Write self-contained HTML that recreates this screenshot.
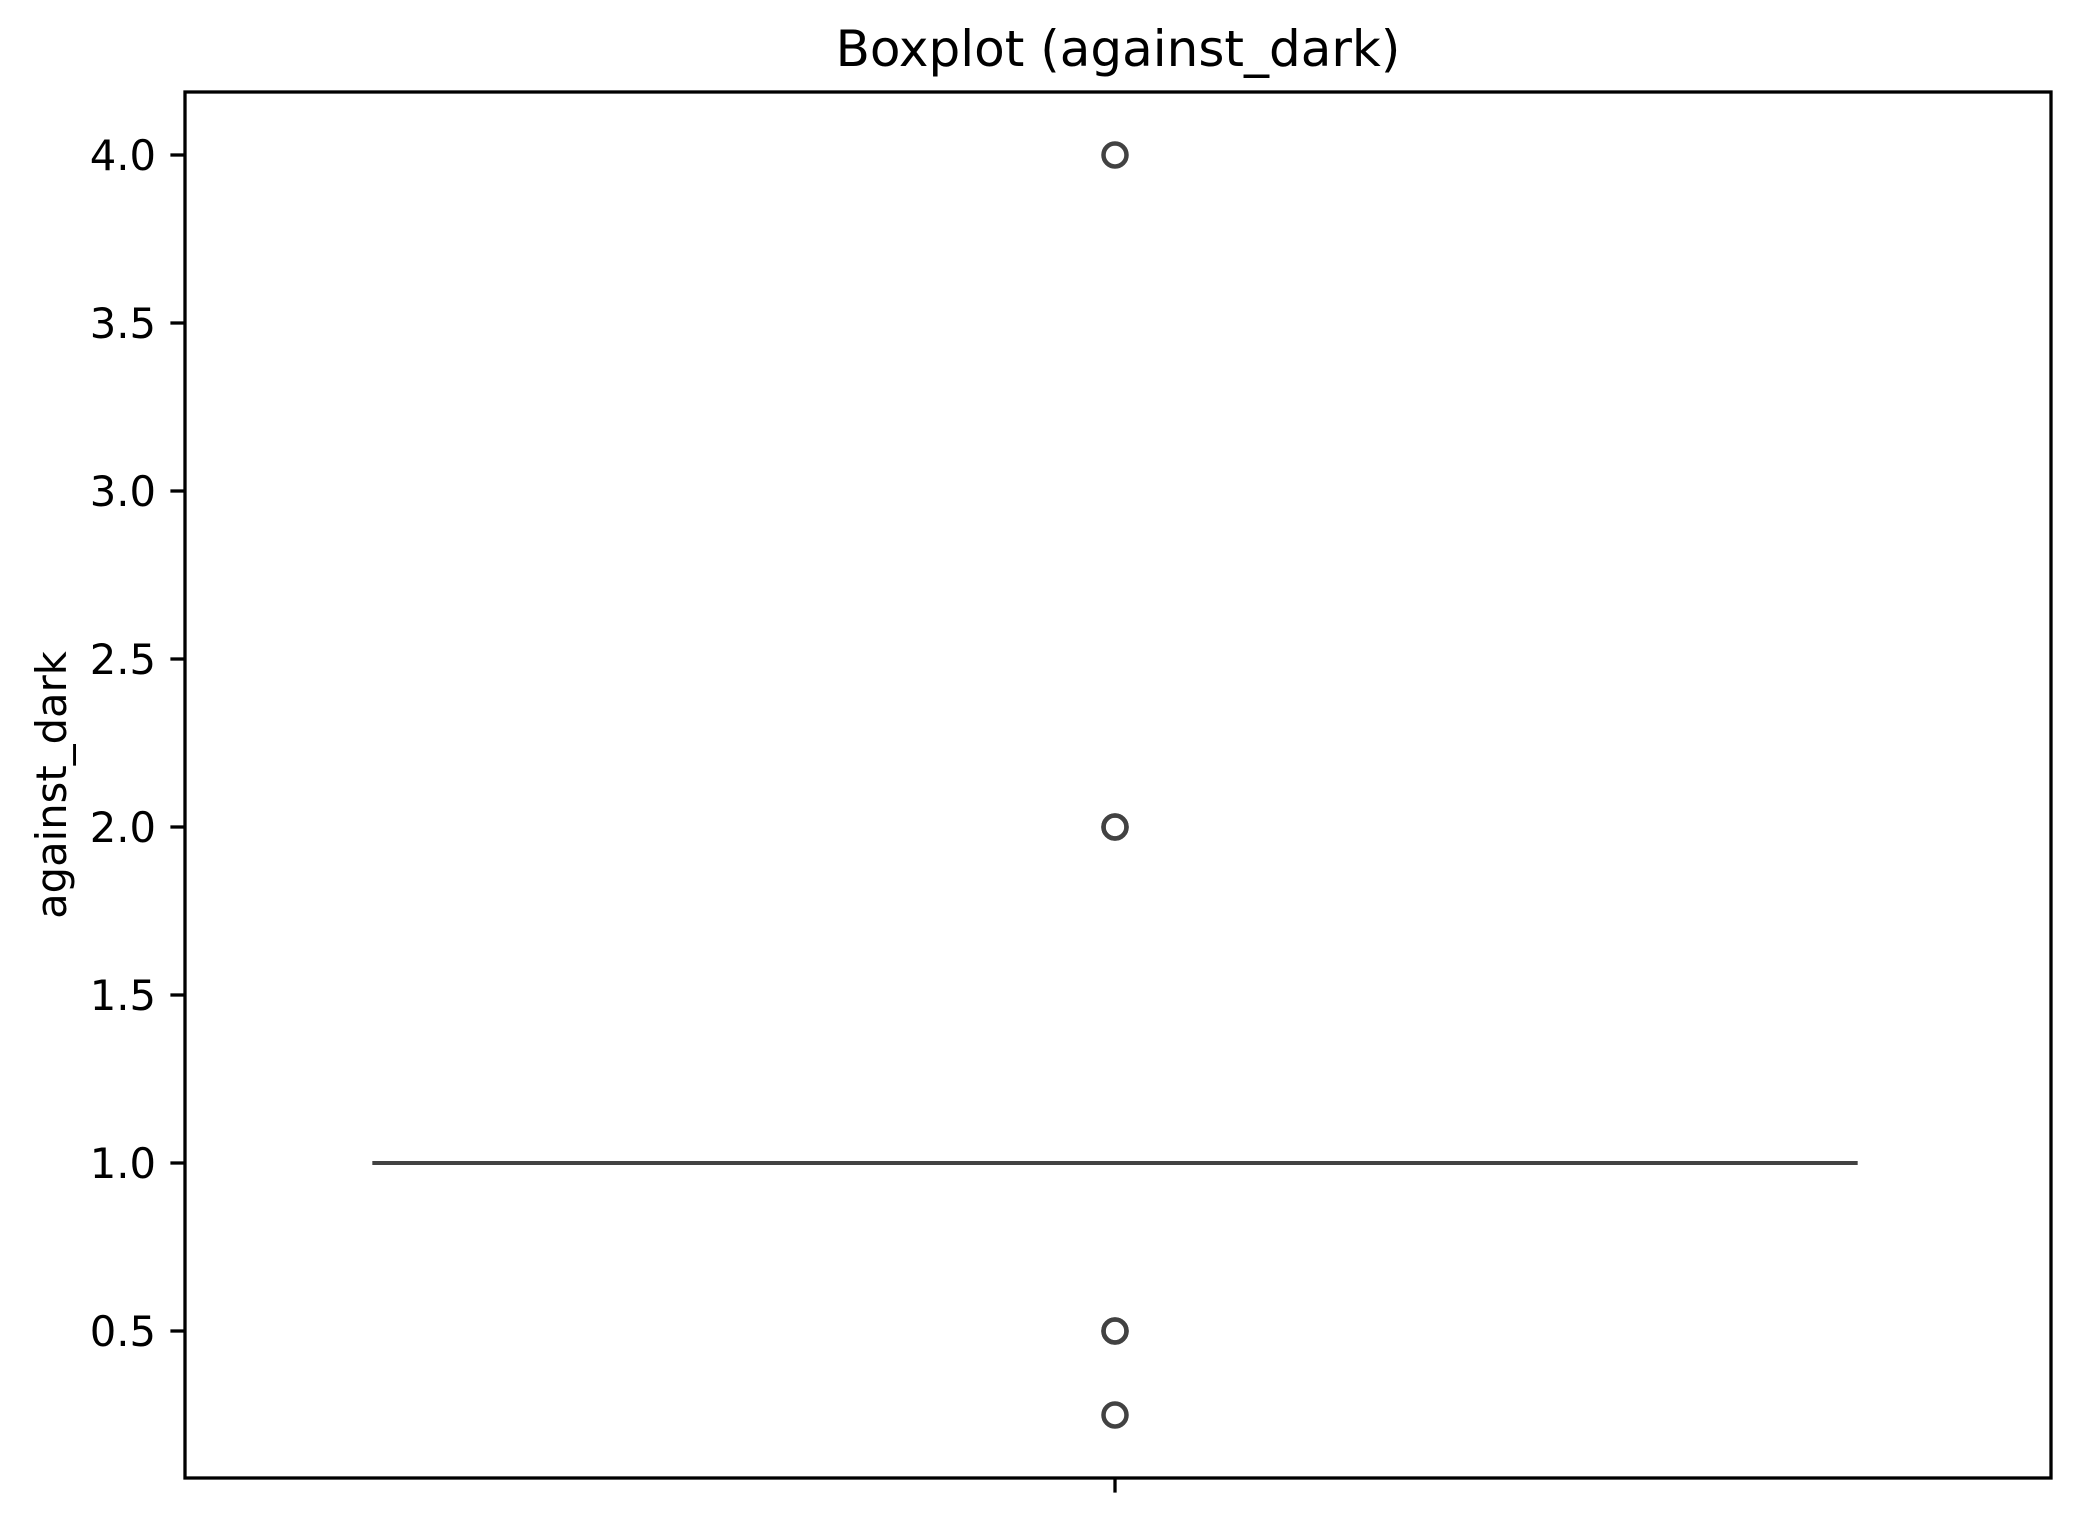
<!DOCTYPE html>
<html><head><meta charset="utf-8"><style>
html,body{margin:0;padding:0;background:#fff;}
svg{display:block;font-family:"DejaVu Sans","Liberation Sans",sans-serif;}
</style></head><body>
<svg id="chart" width="2075" height="1523" viewBox="0 0 2075 1523" xmlns="http://www.w3.org/2000/svg">
<rect x="0" y="0" width="2075" height="1523" fill="#fff"/>
<text x="1118" y="66" font-size="50" text-anchor="middle" fill="#000">Boxplot (against_dark)</text>
<text x="0" y="0" font-size="41.7" text-anchor="middle" fill="#000" transform="translate(66,785) rotate(-90)">against_dark</text>
<g id="ticks"></g>
<g id="marks"></g>
<rect x="185" y="92" width="1866" height="1386" fill="none" stroke="#000" stroke-width="3.3"/>
</svg>
<script>
const yTicks = [0.5, 1.0, 1.5, 2.0, 2.5, 3.0, 3.5, 4.0];
const yTickLabels = ["0.5", "1.0", "1.5", "2.0", "2.5", "3.0", "3.5", "4.0"];
const boxStats = [1.0, 1.0, 1.0, 1.0, 1.0]; // whislo, q1, med, q3, whishi
const fliers = [4.0, 2.0, 2.0, 0.5, 0.5, 0.25];
const yDomainMin = 0.0625, yDomainMax = 4.1875;
const plotLeft = 185, plotRight = 2051, plotTop = 92, plotBottom = 1478;
const svgNS = "http://www.w3.org/2000/svg";
function yScale(v){ return plotBottom - (v - yDomainMin) / (yDomainMax - yDomainMin) * (plotBottom - plotTop); }
const centerX = (plotLeft + plotRight) / 2 - 3;
const halfWidth = (plotRight - plotLeft) * 0.398;
function mk(tag, attrs, parent){ const e = document.createElementNS(svgNS, tag); for (const k in attrs) e.setAttribute(k, attrs[k]); parent.appendChild(e); return e; }
const tickGroup = document.getElementById('ticks');
yTicks.forEach((v, i) => {
  const t = mk('line', {x1: plotLeft - 14.6, x2: plotLeft, y1: yScale(v), y2: yScale(v), stroke: '#000', 'stroke-width': 3.3}, tickGroup);
  
  
  const l = mk('text', {x: plotLeft - 29, y: yScale(v) + 15, 'font-size': 41.7, 'text-anchor': 'end', fill: '#000'}, tickGroup);
  l.textContent = yTickLabels[i];
  
  
});
const xTick = mk('line', {x1: centerX, x2: centerX, y1: plotBottom, y2: plotBottom + 14.6, stroke: '#000', 'stroke-width': 3.3}, tickGroup);


const markGroup = document.getElementById('marks');
const boxRect = mk('rect', {x: centerX - halfWidth, y: yScale(boxStats[3]), width: 2 * halfWidth, height: Math.max(0, yScale(boxStats[1]) - yScale(boxStats[3])), fill: '#1f77b4', stroke: '#424242', 'stroke-width': 4}, markGroup);


const medLine = mk('line', {x1: centerX - halfWidth, x2: centerX + halfWidth, y1: yScale(boxStats[2]), y2: yScale(boxStats[2]), stroke: '#424242', 'stroke-width': 4}, markGroup);


fliers.forEach(v => {
  const c = mk('circle', {cx: centerX, cy: yScale(v), r: 11.5, fill: 'none', stroke: '#424242', 'stroke-width': 4.5}, markGroup);
  
  
});
</script>
</body></html>
